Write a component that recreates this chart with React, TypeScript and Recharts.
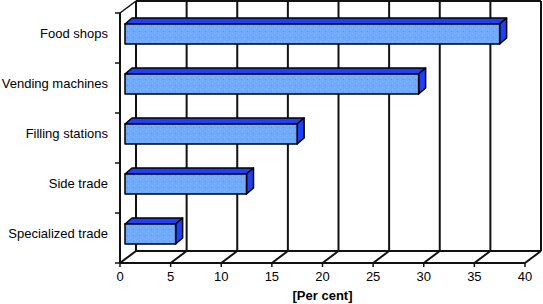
import * as R from "recharts";
import { BarChart, Bar, XAxis, YAxis, CartesianGrid } from "recharts";

// ── Data ──
const categories = [
  "Food shops",
  "Vending machines",
  "Filling stations",
  "Side trade",
  "Specialized trade",
];
const shares = [37, 29, 17, 12, 5];
const xTicks = [0, 5, 10, 15, 20, 25, 30, 35, 40];

const data = categories.map((name, i) => ({ name, value: shares[i] }));

// ── 3D look ──
const DEPTH_X = 16;
const DEPTH_Y = 12;
const FONT = "'Liberation Sans', Arial, Helvetica, sans-serif";
const LINE = "#111";

function BackWall() {
  const usePlotArea = (R as any).usePlotArea;
  const area = usePlotArea ? usePlotArea() : null;
  if (!area) return null;
  const { x, y, width, height } = area;
  return (
    <g>
      <defs>
        <pattern id="speckle" width="6" height="6" patternUnits="userSpaceOnUse">
          <rect width="6" height="6" fill="#70aaf8" />
          <rect x="1" y="1" width="1" height="1" fill="#5a94ea" />
          <rect x="4" y="3" width="1" height="1" fill="#c9a98c" />
          <rect x="2" y="5" width="1" height="1" fill="#8cbcff" />
        </pattern>
      </defs>
      <line x1={x + DEPTH_X} y1={y - DEPTH_Y} x2={x + width + DEPTH_X} y2={y - DEPTH_Y} stroke={LINE} strokeWidth={2} />
      <line x1={x + DEPTH_X} y1={y + height - DEPTH_Y} x2={x + width + DEPTH_X} y2={y + height - DEPTH_Y} stroke={LINE} strokeWidth={2} />
      <line x1={x} y1={y} x2={x + DEPTH_X} y2={y - DEPTH_Y} stroke={LINE} strokeWidth={1.5} />
    </g>
  );
}

function Bar3D(props: any) {
  const { x, y, width, height } = props;
  if (width <= 0) return null;
  const fx = x + 5;
  const fy = y - 4;
  const dx = 7;
  const dy = 6;
  return (
    <g stroke="#000" strokeWidth={1.5} strokeLinejoin="round">
      <polygon
        points={`${fx},${fy} ${fx + width},${fy} ${fx + width + dx},${fy - dy} ${fx + dx},${fy - dy}`}
        fill="#1f3ff8"
      />
      <polygon
        points={`${fx + width},${fy} ${fx + width + dx},${fy - dy} ${fx + width + dx},${fy - dy + height} ${fx + width},${fy + height}`}
        fill="#1f3ff8"
      />
      <rect x={fx} y={fy} width={width} height={height} fill="url(#speckle)" />
    </g>
  );
}

const X_TICK_SIZE = 4;
const X_TICK_MARGIN = 5;

function XTick(props: any) {
  const { x, y, payload } = props;
  const axisY = y - X_TICK_SIZE - X_TICK_MARGIN;
  return (
    <g>
      <line x1={x} y1={axisY} x2={x + DEPTH_X} y2={axisY - DEPTH_Y} stroke={LINE} strokeWidth={2} />
      <text x={x} y={y} dy="0.71em" textAnchor="middle" fontSize={13} fontFamily={FONT} fill="#000">
        {payload.value}
      </text>
    </g>
  );
}

const Y_TICK_SIZE = 5;
const Y_TICK_MARGIN = 7;

function YTick(props: any) {
  const { x, y, payload, index } = props;
  const half = payload.offset ?? 25;
  const axisX = x + Y_TICK_SIZE + Y_TICK_MARGIN;
  return (
    <g>
      <line x1={axisX - 5} y1={y - half} x2={axisX} y2={y - half} stroke={LINE} strokeWidth={1.5} />
      {index === categories.length - 1 && (
        <line x1={axisX - 5} y1={y + half} x2={axisX} y2={y + half} stroke={LINE} strokeWidth={1.5} />
      )}
      <text x={x} y={y - 5} dy="0.355em" textAnchor="end" fontSize={13} fontFamily={FONT} fill="#000">
        {payload.value}
      </text>
    </g>
  );
}

export default function App() {
  return (
    <div style={{ position: "absolute", left: 0, top: 0, width: 543, height: 304, background: "#fff" }}>
      <BarChart
        width={543}
        height={304}
        data={data}
        layout="vertical"
        margin={{ top: 13, right: 18, bottom: 0, left: 0 }}
      >
        <CartesianGrid
          horizontal={false}
          vertical={(p: any) => (
            <line
              key={p.key ?? `v-${p.index}`}
              x1={p.x1 + DEPTH_X}
              y1={p.y1 - DEPTH_Y}
              x2={p.x2 + DEPTH_X}
              y2={p.y2 - DEPTH_Y}
              stroke={LINE}
              strokeWidth={2}
            />
          )}
        />
        <BackWall />
        <XAxis
          type="number"
          domain={[0, 40]}
          ticks={xTicks}
          height={41}
          axisLine={{ stroke: LINE, strokeWidth: 2 }}
          tickLine={{ stroke: LINE, strokeWidth: 1.5 }}
          tickSize={X_TICK_SIZE}
          tickMargin={X_TICK_MARGIN}
          tick={<XTick />}
          interval={0}
          label={{
            value: "[Per cent]",
            position: "insideBottom",
            offset: 4,
            style: { fontSize: 13, fontWeight: "bold", fontFamily: FONT, fill: "#000" },
          }}
        />
        <YAxis
          type="category"
          dataKey="name"
          width={120}
          axisLine={{ stroke: LINE, strokeWidth: 2 }}
          tickLine={false}
          tickSize={Y_TICK_SIZE}
          tickMargin={Y_TICK_MARGIN}
          tick={<YTick />}
          interval={0}
        />
        <Bar dataKey="value" barSize={20} shape={<Bar3D />} isAnimationActive={false} />
      </BarChart>
    </div>
  );
}
